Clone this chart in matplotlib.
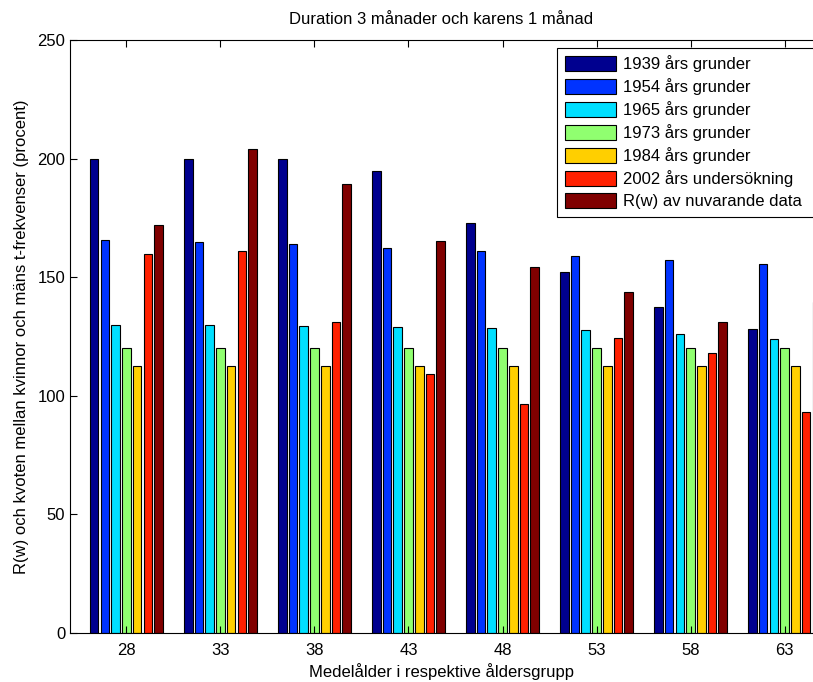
import numpy as np
import matplotlib
matplotlib.use("Agg")
import matplotlib.pyplot as plt

plt.rcParams['font.family'] = ['Liberation Sans', 'DejaVu Sans']

# medelålder per grupp
ages = [28, 33, 38, 43, 48, 53, 58, 63]

labels = ["1939 års grunder", "1954 års grunder", "1965 års grunder",
          "1973 års grunder", "1984 års grunder", "2002 års undersökning",
          "R(w) av nuvarande data"]

v1939 = [200.0, 200.0, 200.0, 194.8, 172.7, 152.2, 137.4, 128.3]
v1954 = [165.8, 164.7, 163.9, 162.4, 161.0, 159.1, 157.3, 155.6]
v1965 = [130.0, 129.7, 129.6, 128.9, 128.6, 127.6, 126.2, 123.8]
v1973 = [120.0, 120.0, 120.0, 120.0, 120.0, 120.0, 120.0, 120.0]
v1984 = [112.5, 112.5, 112.5, 112.5, 112.5, 112.5, 112.5, 112.5]
v2002 = [159.6, 161.0, 131.1, 109.2, 96.5, 124.2, 118.0, 93.2]
vrw = [171.9, 203.9, 189.2, 165.1, 154.2, 143.9, 131.1, 139.5]

series = [v1939, v1954, v1965, v1973, v1984, v2002, vrw]
colors = ['#00008F', '#0033FF', '#00DFFF', '#90FF70', '#FFCF00', '#FF2000', '#800000']

fs = 12
fig = plt.figure(figsize=(8.13, 6.82), dpi=100)
ax = fig.add_axes([70/813, 1-633/682, 771/813, 593/682])

x = np.array(ages, dtype=float)
n = len(series)
slot = 0.8*5/n   # gruppbredd 0.8 av avståndet
for i, (vals, c, lab) in enumerate(zip(series, colors, labels)):
    off = (i - (n-1)/2) * slot
    ax.bar(x + off, vals, width=0.8*slot, color=c, edgecolor='black',
           linewidth=0.8, label=lab)

ax.set_xlim(25, 66)
ax.set_ylim(0, 250)
ax.set_xticks(ages)
ax.set_yticks([0, 50, 100, 150, 200, 250])
ax.tick_params(direction='in', top=True, right=True, labelsize=fs, length=5)
ax.tick_params(axis='x', pad=7)

# titel och x-etikett centrerade på den synliga delen
fig.text(441/813, 1-19/682, "Duration 3 månader och karens 1 månad",
         fontsize=fs, ha='center', va='center')
fig.text(441/813, 1-672/682, "Medelålder i respektive åldersgrupp",
         fontsize=fs, ha='center', va='center')
ax.set_ylabel("R(w) och kvoten mellan kvinnor och mäns t-frekvenser (procent)",
              fontsize=fs, labelpad=6)

# legenden fortsätter utanför bildens högerkant
leg = ax.legend(loc='upper left', bbox_to_anchor=(557/813, 1-48/682, 275/813, 0),
                bbox_transform=fig.transFigure, mode='expand', fontsize=fs,
                fancybox=False, framealpha=1, edgecolor='black',
                handlelength=3.1, handleheight=1.0, labelspacing=0.36,
                borderaxespad=0, handletextpad=0.4, borderpad=0.45)
leg.get_frame().set_linewidth(0.8)

fig.savefig("out.png", dpi=100)
